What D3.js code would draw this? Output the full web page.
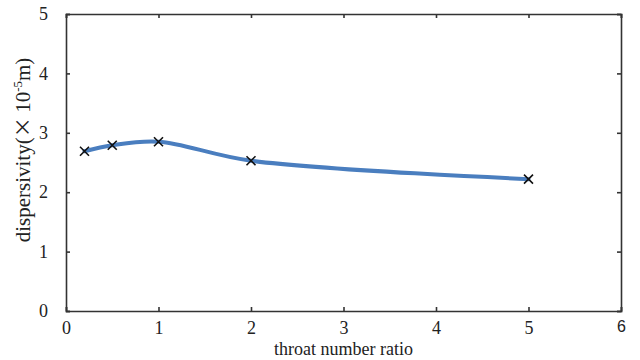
<!DOCTYPE html>
<html lang="en">
    <head>
        <meta charset="utf-8">
        <title>dispersivity vs throat number ratio</title>
        <script src="https://d3js.org/d3.v7.min.js"></script>
        <style>
            body { margin: 0; background: #fff; }
            svg text { font-family: "Liberation Serif", "Times New Roman", Times, serif; fill: #222; }
        </style>
    </head>
    <body>
        <script type="text/javascript">

            var ratio = [0.2, 0.5, 1, 2, 5];
            var dispersivity = [2.69, 2.79, 2.85, 2.53, 2.22];
            var xTicks = [0, 1, 2, 3, 4, 5, 6];
            var yTicks = [0, 1, 2, 3, 4, 5];

            var outerWidth = 640,
                outerHeight = 360;
            var margin = { left: 66, top: 14, right: 19, bottom: 49 };
            var innerWidth = outerWidth - margin.left - margin.right;
            var innerHeight = outerHeight - margin.top - margin.bottom;

            var data = ratio.map((r, i) => ({ x: r, y: dispersivity[i] }));

            var svg = d3.select("body")
                        .append("svg")
                        .attr("width", outerWidth)
                        .attr("height", outerHeight);

            var g = svg.append("g")
                .attr("transform", `translate(${margin.left},${margin.top})`);

            var xScale = d3.scaleLinear().domain([0, 6]).range([0, innerWidth]);
            var yScale = d3.scaleLinear().domain([0, 5]).range([innerHeight, 0]);

            var axisColor = "#333";
            var serif = "'Liberation Serif', 'Times New Roman', serif";

            // frame with inward ticks on all sides
            var axBottom = g.append("g")
                .attr("transform", `translate(0,${innerHeight})`)
                .call(d3.axisBottom(xScale).tickValues(xTicks).tickSize(-4).tickPadding(10).tickFormat(d3.format("d")));
            var axTop = g.append("g")
                .call(d3.axisTop(xScale).tickValues(xTicks).tickSize(-4).tickFormat(""));
            var axLeft = g.append("g")
                .call(d3.axisLeft(yScale).tickValues(yTicks).tickSize(-4).tickPadding(18).tickFormat(d3.format("d")));
            var axRight = g.append("g")
                .attr("transform", `translate(${innerWidth},0)`)
                .call(d3.axisRight(yScale).tickValues(yTicks).tickSize(-4).tickFormat(""));

            [axBottom, axTop, axLeft, axRight].forEach(function(a) {
                a.attr("font-family", serif);
                a.select(".domain").attr("stroke", axisColor).attr("stroke-width", 1.6);
                a.selectAll(".tick line").attr("stroke", axisColor).attr("stroke-width", 1.6);
                a.selectAll(".tick text")
                    .attr("fill", "#222")
                    .style("font-family", serif)
                    .style("font-size", "18px");
            });
            axBottom.selectAll(".tick text").filter(d => d === 6)
                .style("font-family", "'Liberation Sans', sans-serif")
                .style("font-size", "16px");

            // smoothed curve
            var line = d3.line()
                .x(d => xScale(d.x))
                .y(d => yScale(d.y))
                .curve(d3.curveCatmullRom.alpha(0.5));

            g.append("path")
                .datum(data)
                .attr("fill", "none")
                .attr("stroke", "#4a7ebf")
                .attr("stroke-width", 4)
                .attr("stroke-linecap", "round")
                .attr("d", line);

            // x markers
            var s = 4.5;
            g.selectAll(".mark")
                .data(data)
                .enter()
                .append("path")
                .attr("class", "mark")
                .attr("fill", "none")
                .attr("stroke", "#111")
                .attr("stroke-width", 1.6)
                .attr("d", d => {
                    var cx = xScale(d.x), cy = yScale(d.y);
                    return `M${cx - s},${cy - s}L${cx + s},${cy + s}M${cx - s},${cy + s}L${cx + s},${cy - s}`;
                });

            // axis titles
            svg.append("text")
                .attr("x", margin.left + innerWidth / 2)
                .attr("y", 355)
                .attr("text-anchor", "middle")
                .style("font-family", serif)
                .style("font-size", "18px")
                .text("throat number ratio");

            var yt = svg.append("text")
                .attr("transform", "translate(30,150) rotate(-90)")
                .attr("text-anchor", "middle")
                .style("font-family", serif)
                .style("font-size", "21px");
            yt.append("tspan").text("dispersivity(");
            yt.append("tspan").style("font-family", "'Noto Sans CJK SC', sans-serif").style("font-size", "20px").text("× ");
            yt.append("tspan").text("10");
            yt.append("tspan").attr("dy", -8).style("font-size", "13px").text("-5");
            yt.append("tspan").attr("dy", 8).text("m)");

        </script>
    </body>
</html>
